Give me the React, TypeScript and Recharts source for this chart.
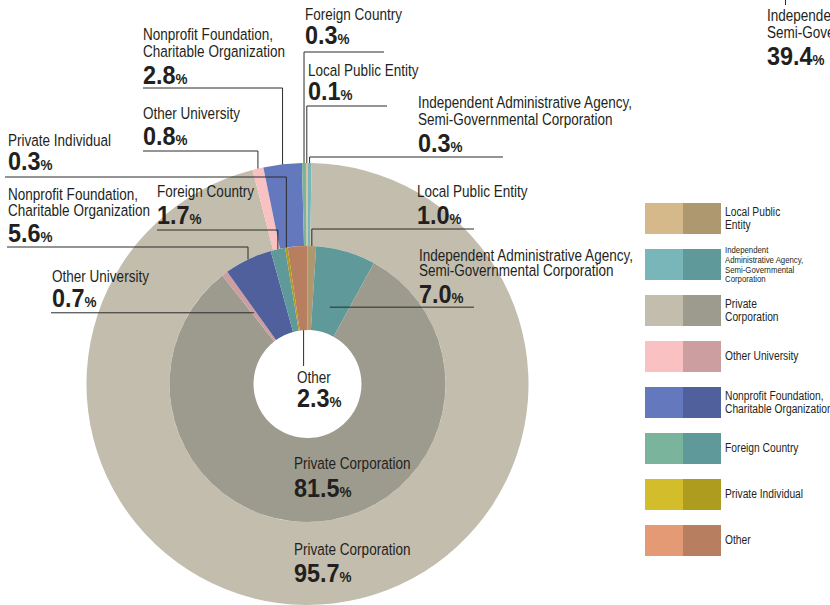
import React from "react";
import { PieChart, Pie, Cell, Legend } from "recharts";

// no narrow face is installed, so Liberation Sans is squeezed horizontally
const FONT = "'Liberation Sans', Arial, sans-serif";
const SQUEEZE = 0.82;
const SQUEEZE_NUM = 0.9;
const INK = "#231f20";

const LPE = "Local Public Entity";
const IAA = "Independent Administrative Agency, Semi-Governmental Corporation";
const PRC = "Private Corporation";
const OUN = "Other University";
const NPF = "Nonprofit Foundation, Charitable Organization";
const FRC = "Foreign Country";
const PIN = "Private Individual";
const OTH = "Other";

// legend order
const categories = [LPE, IAA, PRC, OUN, NPF, FRC, PIN, OTH];

// outer ring, clockwise from 12 o'clock
const outerNames = [IAA, PRC, OUN, NPF, FRC, LPE];
const outerValues = [0.3, 95.7, 0.8, 2.8, 0.3, 0.1];

// inner ring, clockwise from 12 o'clock
const innerNames = [LPE, IAA, PRC, OUN, NPF, FRC, PIN, OTH];
const innerValues = [1.0, 7.0, 81.5, 0.7, 5.6, 1.7, 0.3, 2.3];

// the neighbouring chart that is cut off at the right edge
const neighbourLines = ["Independent Administrative Agency,", "Semi-Governmental Corporation"];
const neighbourValue = 39.4;

const outerData = outerNames.map((name, i) => ({ name, value: outerValues[i] }));
const innerData = innerNames.map((name, i) => ({ name, value: innerValues[i] }));

const lightFill: Record<string, string> = {
  [LPE]: "#d5b98a",
  [IAA]: "#79b6b9",
  [PRC]: "#c2bdad",
  [OUN]: "#f9c1c1",
  [NPF]: "#6378bd",
  [FRC]: "#7bb49c",
  [PIN]: "#d4bd2b",
  [OTH]: "#e59a76",
};
const darkFill: Record<string, string> = {
  [LPE]: "#ae9870",
  [IAA]: "#5f9999",
  [PRC]: "#9d9b8d",
  [OUN]: "#cc9ea0",
  [NPF]: "#50609c",
  [FRC]: "#5f9999",
  [PIN]: "#ae9c1e",
  [OTH]: "#b87e60",
};

const labelLines: Record<string, string[]> = {
  [IAA]: ["Independent Administrative Agency,", "Semi-Governmental Corporation"],
  [NPF]: ["Nonprofit Foundation,", "Charitable Organization"],
};
const legendLines: Record<string, string[]> = {
  [LPE]: ["Local Public", "Entity"],
  [IAA]: ["Independent", "Administrative Agency,", "Semi-Governmental", "Corporation"],
  [PRC]: ["Private", "Corporation"],
  [NPF]: ["Nonprofit Foundation,", "Charitable Organization"],
};

const CX = 307.5;
const CY = 384;
const R_HOLE = 54;
const R_MID = 138;
const R_OUT = 221;

type Spot = {
  x: number;
  y: number;
  gap?: number;
  vy: number;
  ly?: number;
  lx?: number;
  r?: number;
  leader?: boolean;
};

const outerSpots: Record<string, Spot> = {
  [FRC]: { x: 305, y: 20, vy: 44, ly: 52, lx: 384 },
  [LPE]: { x: 308, y: 76, vy: 100, ly: 106, lx: 387 },
  [IAA]: { x: 418, y: 108, gap: 17, vy: 152, ly: 157, lx: 503 },
  [NPF]: { x: 143, y: 40, gap: 17, vy: 84, ly: 88, lx: 143 },
  [OUN]: { x: 143, y: 119, vy: 145, ly: 151, lx: 143 },
  [PRC]: { x: 294, y: 555, vy: 582, leader: false },
};

const innerSpots: Record<string, Spot> = {
  [PIN]: { x: 8, y: 146, vy: 170, ly: 177, lx: 5 },
  [NPF]: { x: 8, y: 200, gap: 16, vy: 242, ly: 247, lx: 7 },
  [FRC]: { x: 157, y: 197, vy: 224, ly: 230, lx: 157 },
  [OUN]: { x: 52, y: 282, vy: 307, lx: 51, r: 89 },
  [LPE]: { x: 417, y: 197, vy: 224, ly: 229, lx: 474 },
  [IAA]: { x: 419, y: 261, gap: 15.5, vy: 303, lx: 474, r: 80 },
  [OTH]: { x: 297, y: 383, vy: 407, ly: 366, r: R_HOLE },
  [PRC]: { x: 294, y: 469, vy: 497, leader: false },
};

function LabelText({ x, y, gap, vy, lines, value }: any) {
  return (
    <g>
      <g transform={`translate(${x},0) scale(${SQUEEZE},1)`}>
        <text fontFamily={FONT} fontSize={16.5} fill={INK}>
          {lines.map((l: string, i: number) => (
            <tspan key={i} x={0} y={y + i * gap}>
              {l}
            </tspan>
          ))}
        </text>
      </g>
      <g transform={`translate(${x},0) scale(${SQUEEZE_NUM},1)`}>
        <text x={0} y={vy} fontFamily={FONT} fontSize={26} fontWeight={700} fill={INK}>
          {Number(value).toFixed(1)}
          <tspan fontSize={15}>%</tspan>
        </text>
      </g>
    </g>
  );
}

function makeLabel(spots: Record<string, Spot>) {
  return (p: any) => {
    const name = p?.payload?.name ?? p.name;
    const s = spots[name];
    if (!s) return null;
    const lines = labelLines[name] ?? [name];
    let leader = null;
    if (s.leader !== false) {
      const cx = p.cx ?? CX;
      const cy = p.cy ?? CY;
      const r = s.r ?? p.outerRadius;
      const a = (-p.midAngle * Math.PI) / 180;
      const px = cx + r * Math.cos(a);
      const py = cy + r * Math.sin(a);
      const sx = s.lx ?? px;
      const sy = s.ly ?? py;
      leader = (
        <path d={`M${sx},${sy}H${px}V${py}`} stroke="#2b2b2b" strokeWidth={1} fill="none" />
      );
    }
    return (
      <g>
        {leader}
        <LabelText x={s.x} y={s.y} gap={s.gap ?? 17} vy={s.vy} lines={lines} value={p.value} />
      </g>
    );
  };
}

const LegendBox = () => (
  <div style={{ position: "relative", width: 190, height: 360, fontFamily: FONT, color: INK }}>
    {categories.map((c, i) => {
      const lines = legendLines[c] ?? [c];
      const small = c === IAA;
      return (
        <div
          key={c}
          style={{ position: "absolute", left: 0, top: i * 46, height: 31, display: "flex", alignItems: "center" }}
        >
          <div style={{ width: 38, height: 31, background: lightFill[c] }} />
          <div style={{ width: 38, height: 31, background: darkFill[c] }} />
          <div
            style={{
              marginLeft: 4,
              fontSize: small ? 9.5 : 12.5,
              lineHeight: small ? "9.7px" : "13px",
              whiteSpace: "nowrap",
              transform: `scaleX(${SQUEEZE})`,
              transformOrigin: "left center",
            }}
          >
            {lines.map((l) => (
              <div key={l}>{l}</div>
            ))}
          </div>
        </div>
      );
    })}
  </div>
);

export default function App() {
  return (
    <div
      style={{
        position: "absolute",
        left: 0,
        top: 0,
        width: 830,
        height: 605,
        overflow: "hidden",
        background: "#fff",
      }}
    >
      <PieChart width={830} height={605} margin={{ top: 0, right: 0, bottom: 0, left: 0 }}>
        <Pie
          data={outerData}
          dataKey="value"
          nameKey="name"
          cx={CX}
          cy={CY}
          innerRadius={R_MID}
          outerRadius={R_OUT}
          startAngle={90}
          endAngle={-270}
          stroke="none"
          isAnimationActive={false}
          label={makeLabel(outerSpots)}
          labelLine={false}
        >
          {outerData.map((d) => (
            <Cell key={d.name} fill={lightFill[d.name]} />
          ))}
        </Pie>
        <Pie
          data={innerData}
          dataKey="value"
          nameKey="name"
          cx={CX}
          cy={CY}
          innerRadius={R_HOLE}
          outerRadius={R_MID}
          startAngle={90}
          endAngle={-270}
          stroke="none"
          isAnimationActive={false}
          label={makeLabel(innerSpots)}
          labelLine={false}
        >
          {innerData.map((d) => (
            <Cell key={d.name} fill={darkFill[d.name]} />
          ))}
        </Pie>
        <Legend
          layout="vertical"
          align="right"
          verticalAlign="top"
          width={190}
          wrapperStyle={{ left: 645, top: 203, width: 190 }}
          content={() => <LegendBox />}
        />
      </PieChart>
      <svg
        width={830}
        height={605}
        style={{ position: "absolute", left: 0, top: 0, pointerEvents: "none" }}
      >
        <line x1={785.5} y1={0} x2={785.5} y2={5} stroke="#2b2b2b" strokeWidth={1} />
        <LabelText x={767} y={21} gap={17} vy={65} lines={neighbourLines} value={neighbourValue} />
      </svg>
    </div>
  );
}
